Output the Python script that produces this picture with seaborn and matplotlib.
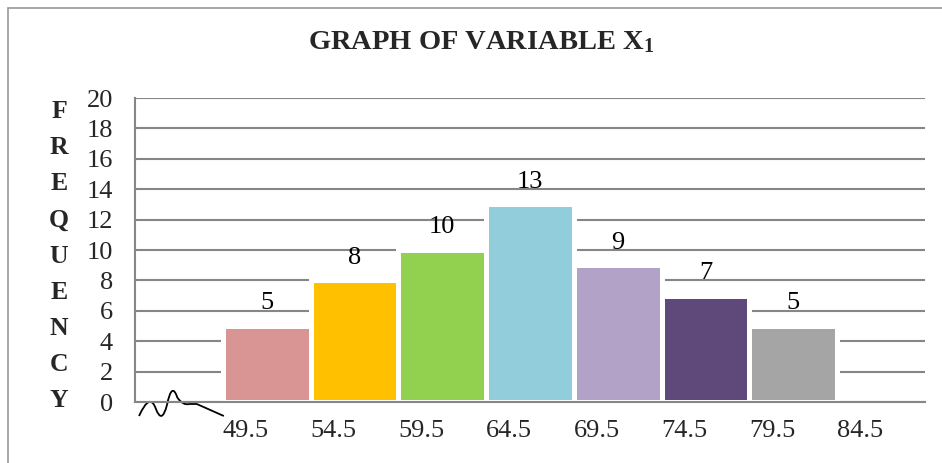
import pandas as pd
import seaborn as sns
import matplotlib.pyplot as plt
from matplotlib.lines import Line2D
from matplotlib.path import Path
from matplotlib.patches import PathPatch

# class boundaries and frequencies
boundaries = [49.5, 54.5, 59.5, 64.5, 69.5, 74.5, 79.5, 84.5]
frequency = [5, 8, 10, 13, 9, 7, 5]
colors = ["#D99594", "#FFC000", "#92D050", "#92CDDC", "#B2A2C7", "#5F497A", "#A5A5A5"]
yticks = list(range(0, 21, 2))

mids = [(a + b) / 2 for a, b in zip(boundaries[:-1], boundaries[1:])]
df = pd.DataFrame({
    "mid": mids,
    "freq": frequency,
    "cls": [f"{a}-{b}" for a, b in zip(boundaries[:-1], boundaries[1:])],
})

sns.set_style("white")
plt.rcParams["font.family"] = ["Liberation Serif", "DejaVu Serif"]
plt.rcParams["mathtext.fontset"] = "custom"
plt.rcParams["mathtext.rm"] = "Liberation Serif:bold"
plt.rcParams["mathtext.it"] = "Liberation Serif:bold"

grey = "#868686"
fig = plt.figure(figsize=(9.42, 4.63), dpi=100)
ax = fig.add_axes([0.1433, 0.1317, 0.982 - 0.1433, 0.7883 - 0.1317])

sns.barplot(data=df, x="mid", y="freq", hue="cls", palette=colors, legend=False,
            native_scale=True, dodge=False, width=1, saturation=1,
            edgecolor="white", linewidth=3.6, ax=ax)

for m, f in zip(mids, frequency):
    ax.annotate(str(f), (m, f), xytext=(0, 12), textcoords="offset points",
                ha="center", va="baseline", fontsize=19, color="black")

ax.set_xlim(boundaries[0] - 5, boundaries[-1] + 5)
ax.set_ylim(0, 20)
ax.set_yticks(yticks)
ax.set_xticks(boundaries)
ax.set_xticklabels([str(b) for b in boundaries], ha="left")
ax.tick_params(axis="x", length=0, pad=13, labelsize=19)
ax.tick_params(axis="y", length=5, width=1.5, color=grey, pad=11, labelsize=19)
ax.yaxis.grid(True, color=grey, linewidth=1.5)
ax.set_axisbelow(True)
for s in ["top", "right"]:
    ax.spines[s].set_visible(False)
for s in ["left", "bottom"]:
    ax.spines[s].set_color(grey)
    ax.spines[s].set_linewidth(1.5)

ax.set_xlabel("")
ax.set_ylabel("\n".join("FREQUENCY"), rotation=0, fontsize=18.5, fontweight="bold",
              linespacing=1.73, va="center", ha="center")
ax.yaxis.set_label_coords(-0.096, 0.48)

# axis break squiggle
verts = [(44.73, -0.92),
         (45.35, 0.68), (45.69, -0.45),
         (46.03, -1.5), (46.32, -0.2),
         (46.60, 1.39), (46.91, 0.3),
         (47.23, -0.25), (47.6, -0.13),
         (48.02, -0.13),
         (49.56, -0.92)]
codes = [Path.MOVETO,
         Path.CURVE3, Path.CURVE3,
         Path.CURVE3, Path.CURVE3,
         Path.CURVE3, Path.CURVE3,
         Path.CURVE3, Path.CURVE3,
         Path.LINETO,
         Path.LINETO]
ax.add_patch(PathPatch(Path(verts, codes), facecolor="none", edgecolor="black",
                       lw=1.3, clip_on=False, joinstyle="round"))

fig.text(0.511, 0.91, r"GRAPH OF VARIABLE $\mathrm{X}_1$", ha="center", va="center",
         fontsize=20.5, fontweight="bold")

# chart frame
fig.add_artist(Line2D([0.0085, 0.0085], [0, 0.9827], color="#9a9a9a", lw=1.2))
fig.add_artist(Line2D([0.0085, 1], [0.9827, 0.9827], color="#9a9a9a", lw=1.2))

fig.savefig("out.png", dpi=100)
